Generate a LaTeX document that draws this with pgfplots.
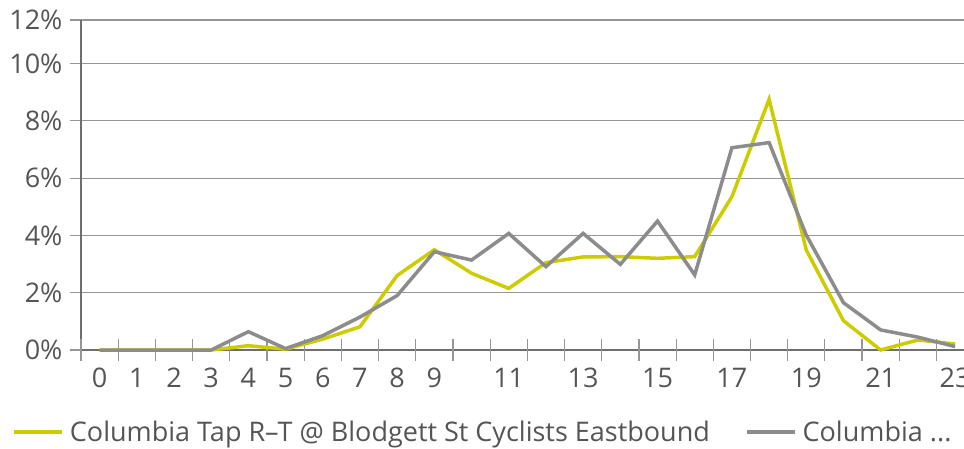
\documentclass[border=0pt]{standalone}
\usepackage{pgfplots}
\usepackage{pgfplotstable}
\pgfplotsset{compat=1.18}
\usepackage{fontspec}
\setmainfont{Open Sans}
\definecolor{cyel}{RGB}{204,204,0}
\definecolor{cgray}{RGB}{140,140,140}
\definecolor{cgrid}{RGB}{150,150,150}
\definecolor{caxis}{RGB}{110,110,110}
\definecolor{ctext}{RGB}{85,85,85}

\pgfplotstableread{
h  yel   gry
0  0     0
1  0     0
2  0     0
3  0     0
4  0.15  0.64
5  0.03  0.05
6  0.38  0.50
7  0.81  1.15
8  2.60  1.90
9  3.50  3.43
10 2.68  3.14
11 2.15  4.07
12 3.05  2.91
13 3.25  4.07
14 3.26  2.99
15 3.20  4.50
16 3.26  2.62
17 5.35  7.06
18 8.75  7.24
19 3.49  4.01
20 1.02  1.65
21 0     0.70
22 0.35  0.45
23 0.21  0.12
}\datatable

\begin{document}
\begin{tikzpicture}
\begin{axis}[
  scale only axis, width=883pt, height=330pt,
  xmin=-0.5, xmax=23.24, ymin=0, ymax=11.52,
  clip=false,
  axis x line=bottom, axis y line=left,
  axis line style={draw=caxis, line width=2pt, -},
  xtick={0,1,2,3,4,5,6,7,8,9,11,13,15,17,19,21,23},
  xticklabels={0,1,2,3,4,5,6,7,8,9,11,13,15,17,19,21,23},
  major x tick style={draw=none},
  extra x ticks={-0.5,0.5,1.5,2.5,3.5,4.5,5.5,6.5,7.5,8.5,9.5,10.5,11.5,12.5,13.5,14.5,15.5,16.5,17.5,18.5,19.5,20.5,21.5,22.5},
  extra x tick labels={},
  extra x tick style={major tick length=22pt, xtick align=center,
     major x tick style={draw=cgrid, line width=1.2pt}},
  ytick={0,2,4,6,8,10,11.52},
  yticklabels={0\%,2\%,4\%,6\%,8\%,10\%,12\%},
  ytick align=outside, major tick length=11pt,
  y tick style={draw=cgrid, line width=1.2pt},
  ymajorgrids, grid style={draw=cgrid, line width=1.2pt},
  tick label style={font=\fontsize{27}{32}\selectfont, text=ctext},
  xticklabel style={yshift=-9pt},
  yticklabel style={xshift=-4pt},
  legend style={at={(axis description cs:0,0)}, anchor=north west,
    xshift=-69pt, yshift=-69pt, draw=none, fill=none, inner sep=0pt,
    font=\fontsize{27}{32}\selectfont, text=ctext,
    /tikz/every even column/.append style={column sep=33pt}},
  legend columns=2,
  legend image code/.code={\draw[#1] (0pt,0pt) -- (48pt,0pt); \path[draw=none, fill=none] (54pt,0pt) circle (0pt);},
]
\addplot[cyel, line width=3.5pt, sharp plot] table[x=h, y=yel] {\datatable};
\addlegendentry{Columbia Tap R--T @ Blodgett St Cyclists Eastbound}
\addplot[cgray, line width=3.5pt, sharp plot] table[x=h, y=gry] {\datatable};
\addlegendentry{Columbia ...}
\coordinate (O) at (rel axis cs:0,0);
\coordinate (T) at (rel axis cs:1,1);
\end{axis}
\pgfresetboundingbox
\path[use as bounding box] ([shift={(-81pt,-98pt)}]O) rectangle ([shift={(0pt,20pt)}]T);
\end{tikzpicture}
\end{document}
